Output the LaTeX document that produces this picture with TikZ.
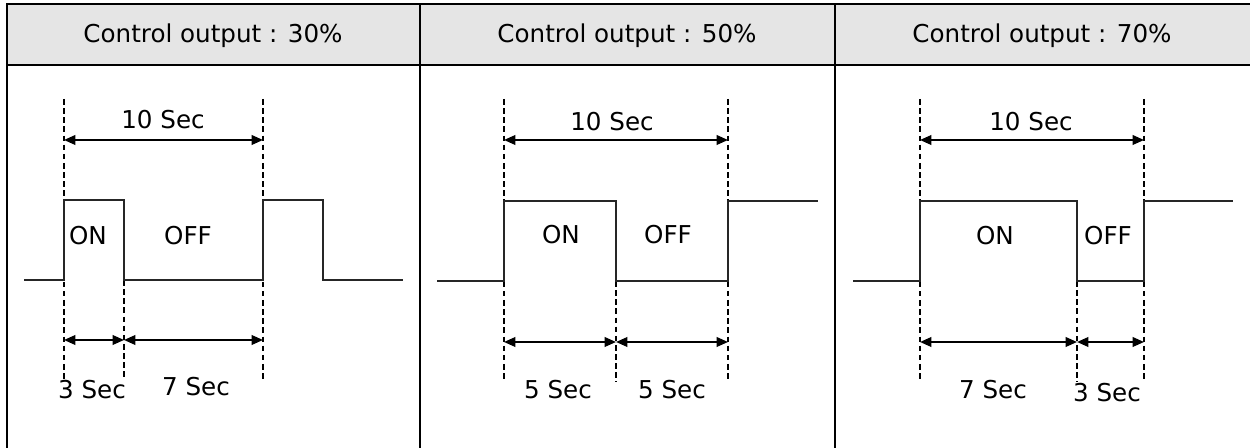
\documentclass[tikz,border=0pt]{standalone}
\usepackage{fontspec}
\setmainfont{DejaVu Sans}
\usetikzlibrary{arrows.meta}
\begin{document}
\begin{tikzpicture}[x=0.02cm,y=-0.02cm,font=\fontsize{14}{16}\selectfont,
  frame/.style={line width=1.2pt},
  wave/.style={line width=0.6pt,black!85},
  guide/.style={line width=0.6pt,dash pattern=on 3.2pt off 2pt},
  span/.style={line width=1.1pt,{Triangle[length=6.5pt,width=5.5pt]}-{Triangle[length=6.5pt,width=5.5pt]}}]
\useasboundingbox (0,0) rectangle (1250,448);
\fill[gray!20] (7,4) rectangle (1250,65);
\draw[frame] (7,448) -- (7,4) -- (1250,4);
\draw[frame] (7,65) -- (1250,65);
\draw[frame] (420,4) -- (420,448);
\draw[frame] (835,4) -- (835,448);
\node (hdA) at (213,36) {Control output : 30\%};
\node (hdB) at (627,36) {Control output : 50\%};
\node (hdC) at (1042,36) {Control output : 70\%};
% 30%
\coordinate (aT1) at (64,99); \coordinate (aB1) at (64,380);
\coordinate (aL2) at (124,280); \coordinate (aB2) at (124,378);
\coordinate (aT3) at (263,99); \coordinate (aB3) at (263,380);
\draw[guide] (aT1) -- (aB1);
\draw[guide] (aL2) -- (aB2);
\draw[guide] (aT3) -- (aB3);
\draw[wave] (24,280) -| (64,200) -| (124,280) -| (263,200) -| (323,280) -- (403,280);
\draw[span] (aT1 |- 0,140) -- (aT3 |- 0,140);
\draw[span] (aB1 |- 0,340) -- (aB2 |- 0,340);
\draw[span] (aB2 |- 0,340) -- (aB3 |- 0,340);
\node (aTot) at (163,120) {10 Sec};
\node (aOn) at (88,236) {ON};
\node (aOff) at (188,236) {OFF};
\node (aD1) at (92,390) {3 Sec};
\node (aD2) at (196,387) {7 Sec};
% 50%
\coordinate (bT1) at (504,99); \coordinate (bB1) at (504,382);
\coordinate (bL2) at (616,281); \coordinate (bB2) at (616,382);
\coordinate (bT3) at (728,99); \coordinate (bB3) at (728,382);
\draw[guide] (bT1) -- (bB1);
\draw[guide] (bL2) -- (bB2);
\draw[guide] (bT3) -- (bB3);
\draw[wave] (437,281) -| (504,201) -| (616,281) -| (728,201) -- (818,201);
\draw[span] (bT1 |- 0,140) -- (bT3 |- 0,140);
\draw[span] (bB1 |- 0,342) -- (bB2 |- 0,342);
\draw[span] (bB2 |- 0,342) -- (bB3 |- 0,342);
\node (bTot) at (612,122) {10 Sec};
\node (bOn) at (561,235) {ON};
\node (bOff) at (668,235) {OFF};
\node (bD1) at (558,390) {5 Sec};
\node (bD2) at (672,390) {5 Sec};
% 70%
\coordinate (cT1) at (920,99); \coordinate (cB1) at (920,382);
\coordinate (cL2) at (1077,281); \coordinate (cB2) at (1077,382);
\coordinate (cT3) at (1144,99); \coordinate (cB3) at (1144,382);
\draw[guide] (cT1) -- (cB1);
\draw[guide] (cL2) -- (cB2);
\draw[guide] (cT3) -- (cB3);
\draw[wave] (853,281) -| (920,201) -| (1077,281) -| (1144,201) -- (1233,201);
\draw[span] (cT1 |- 0,140) -- (cT3 |- 0,140);
\draw[span] (cB1 |- 0,342) -- (cB2 |- 0,342);
\draw[span] (cB2 |- 0,342) -- (cB3 |- 0,342);
\node (cTot) at (1031,122) {10 Sec};
\node (cOn) at (995,236) {ON};
\node (cOff) at (1108,236) {OFF};
\node (cD1) at (993,390) {7 Sec};
\node (cD2) at (1107,393) {3 Sec};
\end{tikzpicture}
\end{document}
